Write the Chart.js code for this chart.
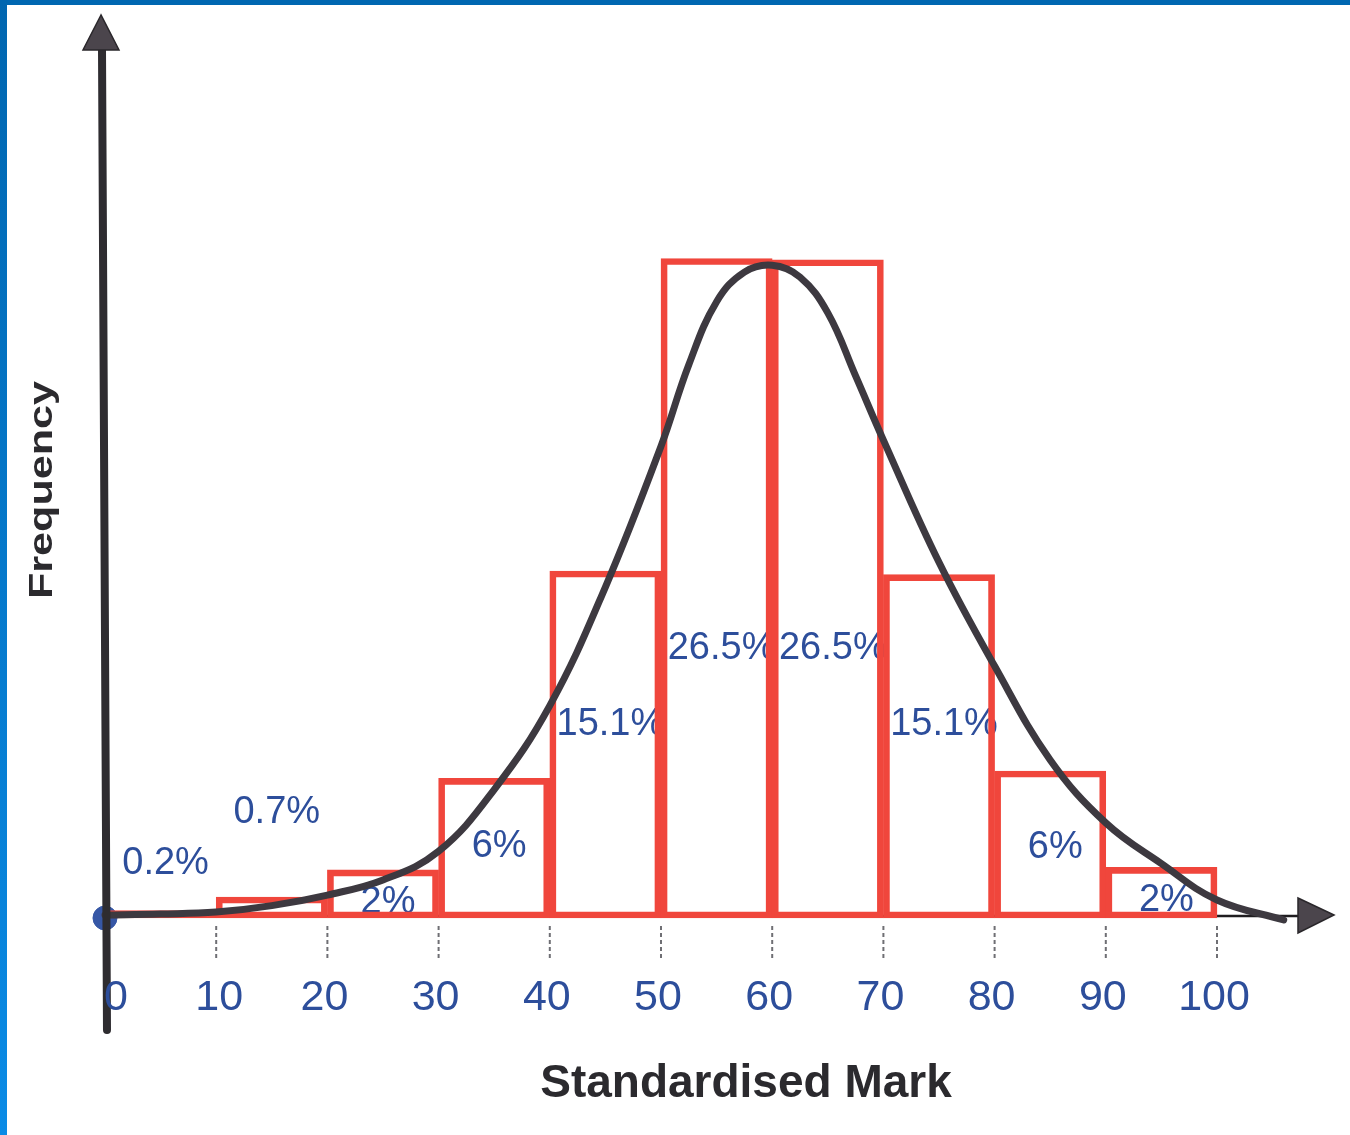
<!DOCTYPE html>
<html><head><meta charset="utf-8">
<script src="https://cdn.jsdelivr.net/npm/chart.js@4"></script>
<style>html,body{margin:0;padding:0;background:#fff;overflow:hidden}canvas{display:block}</style>
</head><body>
<canvas id="c" width="1350" height="1135"></canvas>
<script>
// ---- data ----
const binStarts = [0, 10, 20, 30, 40, 50, 60, 70, 80, 90];
const binWidth = 10;
const barHeights = [0.3, 0.85, 1.95, 5.65, 14.05, 26.7, 26.65, 13.9, 5.95, 2.05];
const barLabels = ['0.2%', '0.7%', '2%', '6%', '15.1%', '26.5%', '26.5%', '15.1%', '6%', '2%'];
const curveX = [0, 5, 10, 15, 20, 25, 30, 35, 40, 45, 50, 52.5, 55, 57.5, 60, 62.5, 65, 67.5, 70, 75, 80, 85, 90, 95, 100, 106];
const curveY = [0.12, 0.16, 0.24, 0.5, 0.93, 1.54, 2.7, 5.2, 8.6, 13.4, 19.1, 22.4, 24.95, 26.15, 26.43, 25.95, 24.5, 21.95, 19.35, 14.4, 10.2, 6.4, 3.85, 2.2, 0.73, -0.08];
const tickValues = [0, 10, 20, 30, 40, 50, 60, 70, 80, 90, 100];
const tickLabels = ['0', '10', '20', '30', '40', '50', '60', '70', '80', '90', '100'];
const xTitle = 'Standardised Mark';
const yTitle = 'Frequency';

// ---- layout / style (not data) ----
const LABEL_LEVEL = [2.35, 4.41, 0.77, 3.04, 7.98, 11.05, 11.05, 7.98, 2.96, 0.85];
const RED = '#f0463c';
const BLUE_TXT = '#2d4e9b';
const CURVE = '#3d3940';
const AXIS = '#2e2c30';
const FONT = '"Liberation Sans", Arial, sans-serif';

const barData = binStarts.map((s, i) => ({ x: s + binWidth / 2, y: barHeights[i] }));
const curveData = curveX.map((x, i) => ({ x, y: curveY[i] }));

const deco = {
  id: 'deco',
  beforeDraw(chart) {
    const ctx = chart.ctx, W = chart.width, H = chart.height;
    ctx.save();
    ctx.fillStyle = '#ffffff';
    ctx.fillRect(0, 0, W, H);
    ctx.fillStyle = '#0067b1';
    ctx.fillRect(0, 0, W, 5);
    const g = ctx.createLinearGradient(0, 0, 0, H);
    g.addColorStop(0, '#0066b0');
    g.addColorStop(1, '#0a8be6');
    ctx.fillStyle = g;
    ctx.fillRect(0, 0, 7, H);
    ctx.restore();
  },
  beforeDatasetsDraw(chart) {
    const ctx = chart.ctx, xs = chart.scales.x, ys = chart.scales.y;
    const x0 = xs.getPixelForValue(0), y0 = ys.getPixelForValue(0);
    ctx.save();
    // horizontal axis line
    ctx.strokeStyle = '#1f1d20';
    ctx.lineWidth = 2.5;
    ctx.beginPath();
    ctx.moveTo(x0, y0 - 2);
    ctx.lineTo(x0 + 1195, y0 - 2);
    ctx.stroke();
    // arrow head (x)
    ctx.fillStyle = '#4b454c';
    ctx.strokeStyle = '#2a272b';
    ctx.lineWidth = 1.5;
    ctx.beginPath();
    ctx.moveTo(x0 + 1229, y0 - 3);
    ctx.lineTo(x0 + 1193, y0 - 20);
    ctx.lineTo(x0 + 1193, y0 + 15);
    ctx.closePath();
    ctx.fill(); ctx.stroke();
    // dotted tick marks
    ctx.strokeStyle = '#6f6f74';
    ctx.lineWidth = 2;
    ctx.setLineDash([4, 3]);
    tickValues.forEach(v => {
      if (v === 0) return;
      const px = xs.getPixelForValue(v);
      ctx.beginPath();
      ctx.moveTo(px, y0 + 8);
      ctx.lineTo(px, y0 + 40);
      ctx.stroke();
    });
    ctx.setLineDash([]);
    // percentage labels
    ctx.fillStyle = BLUE_TXT;
    ctx.font = '38px ' + FONT;
    ctx.textAlign = 'center';
    ctx.textBaseline = 'alphabetic';
    barLabels.forEach((t, i) => {
      const px = xs.getPixelForValue(binStarts[i] + binWidth / 2) + 5;
      const py = ys.getPixelForValue(LABEL_LEVEL[i]) + 0.358 * 38;
      ctx.fillText(t, px, py);
    });
    ctx.restore();
  },
  afterDatasetsDraw(chart) {
    const ctx = chart.ctx, xs = chart.scales.x, ys = chart.scales.y;
    const x0 = xs.getPixelForValue(0), y0 = ys.getPixelForValue(0);
    ctx.save();
    // vertical axis shaft
    ctx.strokeStyle = AXIS;
    ctx.lineWidth = 8;
    ctx.lineCap = 'round';
    ctx.beginPath();
    ctx.moveTo(x0 - 3, 48);
    ctx.lineTo(x0 + 2, y0 + 112);
    ctx.stroke();
    // arrow head (y)
    ctx.fillStyle = '#4b454c';
    ctx.strokeStyle = '#2a272b';
    ctx.lineWidth = 1.5;
    ctx.beginPath();
    ctx.moveTo(x0 - 4, 15);
    ctx.lineTo(x0 - 22, 50);
    ctx.lineTo(x0 + 14, 50);
    ctx.closePath();
    ctx.fill(); ctx.stroke();
    // tick labels
    ctx.fillStyle = BLUE_TXT;
    ctx.font = '43px ' + FONT;
    ctx.textAlign = 'center';
    ctx.textBaseline = 'alphabetic';
    tickValues.forEach((v, i) => {
      const px = xs.getPixelForValue(v) + (v === 0 ? 11 : (v === 10 ? 3 : -3));
      ctx.fillText(tickLabels[i], px, y0 + 92);
    });
    // x title
    ctx.fillStyle = '#2b2a2e';
    ctx.font = 'bold 46px ' + FONT;
    ctx.fillText(xTitle, 746, 1097);
    // y title (rotated, stretched along its length)
    ctx.font = 'bold 33px ' + FONT;
    const w = ctx.measureText(yTitle).width;
    const sx = 218 / w;
    ctx.translate(52, 490);
    ctx.rotate(-Math.PI / 2);
    ctx.scale(sx, 1);
    ctx.fillText(yTitle, 0, 0);
    ctx.restore();
  }
};

new Chart(document.getElementById('c'), {
  type: 'bar',
  data: {
    datasets: [
      {
        type: 'line',
        data: curveData,
        borderColor: CURVE,
        borderWidth: 7,
        borderCapStyle: 'round',
        borderJoinStyle: 'round',
        tension: 0.4,
        pointRadius: 0,
        fill: false,
        clip: false,
        order: 0
      },
      {
        type: 'bar',
        data: barData,
        backgroundColor: 'rgba(0,0,0,0)',
        borderColor: RED,
        borderWidth: 6,
        borderSkipped: false,
        barPercentage: 1,
        categoryPercentage: 1,
        grouped: false,
        clip: false,
        order: 1
      },
      {
        type: 'line',
        data: [{ x: 0, y: 0 }],
        showLine: false,
        pointRadius: 12,
        pointBackgroundColor: '#3657a6',
        pointBorderColor: '#3657a6',
        clip: false,
        order: 2
      }
    ]
  },
  options: {
    responsive: false,
    animation: false,
    devicePixelRatio: 1,
    events: [],
    layout: { padding: 0, autoPadding: false },
    plugins: { legend: { display: false }, tooltip: { enabled: false }, title: { display: false } },
    scales: {
      x: {
        type: 'linear', min: -9.442, max: 111.96, display: false, offset: false,
        grid: { offset: false },
        afterBuildTicks: (scale) => { scale.ticks = tickValues.map(v => ({ value: v })); }
      },
      y: { type: 'linear', min: -8.785, max: 37.166, display: false }
    }
  },
  plugins: [deco]
});
</script>
</body></html>
